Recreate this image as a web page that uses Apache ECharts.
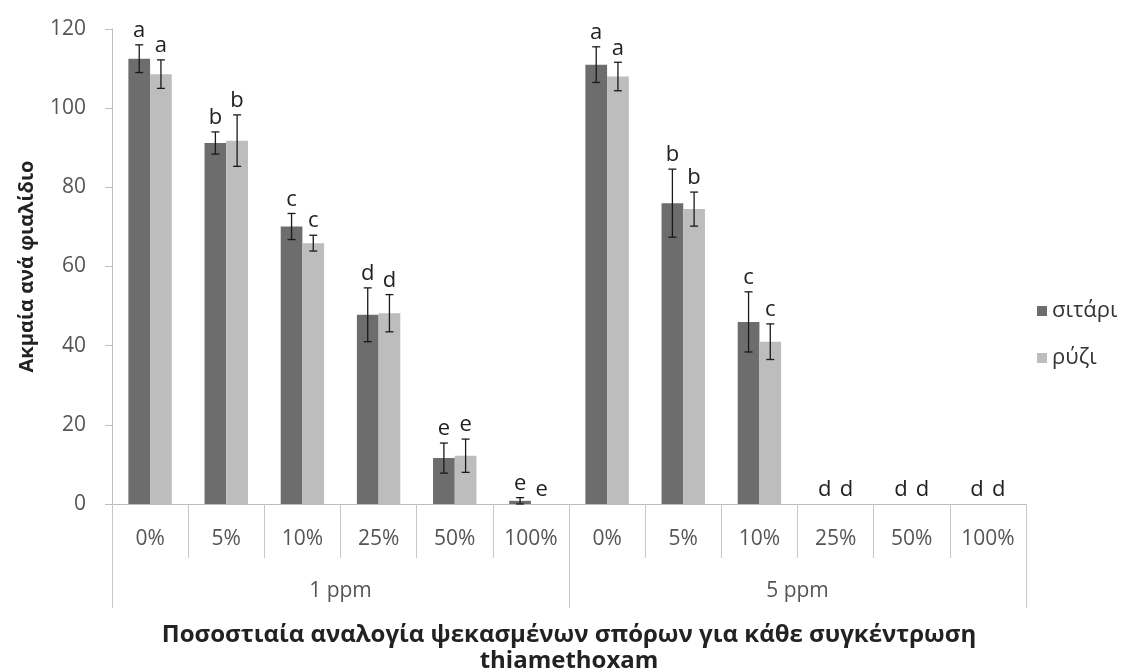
<!DOCTYPE html>
<html>
<head>
<meta charset="utf-8">
<script src="https://cdn.jsdelivr.net/npm/echarts@6/dist/echarts.min.js"></script>
<style>
  html, body { margin: 0; padding: 0; background: #fff; }
  #chart { width: 1125px; height: 668px; }
</style>
</head>
<body>
<div id="chart"></div>
<script>
// Percentage of sprayed seeds, repeated for each thiamethoxam concentration
const percentages = ['0%', '5%', '10%', '25%', '50%', '100%', '0%', '5%', '10%', '25%', '50%', '100%'];
const concentrations = ['1 ppm', '5 ppm'];
const seriesNames = ['σιτάρι', 'ρύζι'];

// Adults per vial (mean) and error half-widths
const wheatValues = [112.5, 91.2, 70.1, 47.8, 11.6, 0.8, 111.0, 76.0, 46.0, 0, 0, 0];
const wheatErrors = [3.5, 2.8, 3.3, 6.8, 3.8, 0.8, 4.5, 8.6, 7.6, 0, 0, 0];
const riceValues = [108.6, 91.8, 65.9, 48.2, 12.2, 0, 108.0, 74.5, 41.0, 0, 0, 0];
const riceErrors = [3.6, 6.5, 2.0, 4.7, 4.2, 0, 3.6, 4.3, 4.5, 0, 0, 0];

// Significance letters
const wheatLetters = ['a', 'b', 'c', 'd', 'e', 'e', 'a', 'b', 'c', 'd', 'd', 'd'];
const riceLetters = ['a', 'b', 'c', 'd', 'e', 'e', 'a', 'b', 'c', 'd', 'd', 'd'];

const yTicks = { min: 0, max: 120, interval: 20 };

const FONT = '"Open Sans", "Noto Sans", sans-serif';
const GAP = 0.43; // barCategoryGap fraction

function errorSeries(values, errors, letters, side) {
  return {
    type: 'custom',
    xAxisIndex: 0,
    yAxisIndex: 0,
    silent: true,
    z: 5,
    data: values.map((v, i) => [i, v, errors[i]]),
    renderItem: function (params, api) {
      const idx = api.value(0);
      const v = api.value(1);
      const e = api.value(2);
      const letter = letters[idx];
      const catW = api.size([1, 0])[0];
      const barW = catW * (1 - GAP) / 2;
      const cx = api.coord([idx, 0])[0] + side * barW / 2;
      const yTop = api.coord([idx, v + e])[1];
      const yBot = api.coord([idx, Math.max(v - e, 0)])[1];
      const cap = 4;
      const children = [];
      if (e > 0) {
        const ls = { stroke: '#1a1a1a', lineWidth: 1.3 };
        children.push({ type: 'line', shape: { x1: cx, y1: yTop, x2: cx, y2: yBot }, style: ls });
        children.push({ type: 'line', shape: { x1: cx - cap, y1: yTop, x2: cx + cap, y2: yTop }, style: ls });
        children.push({ type: 'line', shape: { x1: cx - cap, y1: yBot, x2: cx + cap, y2: yBot }, style: ls });
      }
      children.push({
        type: 'text',
        style: {
          x: cx, y: yTop - 3, text: letter,
          textAlign: 'center', textVerticalAlign: 'bottom',
          font: '22px ' + FONT, fill: '#222'
        }
      });
      return { type: 'group', children: children };
    }
  };
}

const chart = echarts.init(document.getElementById('chart'), null, { renderer: 'canvas' });

chart.setOption({
  backgroundColor: '#ffffff',
  animation: false,
  textStyle: { fontFamily: FONT },
  grid: { left: 112, right: 99, top: 29, bottom: 164, containLabel: false, outerBoundsMode: 'none' },
  legend: {
    orient: 'vertical',
    left: 1032,
    top: 295,
    itemWidth: 10,
    itemHeight: 10,
    itemGap: 25,
    icon: 'rect',
    data: seriesNames,
    textStyle: { fontSize: 22, color: '#333', fontFamily: FONT }
  },
  xAxis: [
    {
      type: 'category',
      data: percentages,
      position: 'bottom',
      axisLine: { show: true, lineStyle: { color: '#bdbdbd', width: 1 } },
      axisTick: { show: true, alignWithLabel: false, length: 54, lineStyle: { color: '#c8c8c8' } },
      axisLabel: { margin: 25, fontSize: 21, color: '#555', fontFamily: FONT }
    },
    {
      type: 'category',
      data: concentrations,
      position: 'bottom',
      axisLine: { show: false },
      axisTick: { show: true, alignWithLabel: false, length: 104, lineStyle: { color: '#c8c8c8' } },
      axisLabel: { margin: 77, fontSize: 21, color: '#555', fontFamily: FONT },
      name: 'Ποσοστιαία αναλογία ψεκασμένων σπόρων για κάθε συγκέντρωση\nthiamethoxam',
      nameLocation: 'middle',
      nameGap: 118,
      nameTextStyle: { fontSize: 24, fontWeight: 'bold', color: '#222', lineHeight: 26, fontFamily: FONT }
    }
  ],
  yAxis: {
    type: 'value',
    min: yTicks.min,
    max: yTicks.max,
    interval: yTicks.interval,
    axisLine: { show: true, lineStyle: { color: '#bdbdbd' } },
    axisTick: { show: true, length: 7, lineStyle: { color: '#bdbdbd' } },
    splitLine: { show: false },
    axisLabel: { fontSize: 21, color: '#555', margin: 26, fontFamily: FONT },
    name: 'Ακμαία ανά φιαλίδιο',
    nameLocation: 'middle',
    nameGap: 75,
    nameTextStyle: { fontSize: 20, fontWeight: 'bold', color: '#222', fontFamily: FONT }
  },
  series: [
    {
      name: seriesNames[0],
      type: 'bar',
      xAxisIndex: 0,
      data: wheatValues,
      barGap: '0%',
      barCategoryGap: (GAP * 100) + '%',
      itemStyle: { color: '#6d6d6d' }
    },
    {
      name: seriesNames[1],
      type: 'bar',
      xAxisIndex: 0,
      data: riceValues,
      barGap: '0%',
      barCategoryGap: (GAP * 100) + '%',
      itemStyle: { color: '#bdbdbd' }
    },
    errorSeries(wheatValues, wheatErrors, wheatLetters, -1),
    errorSeries(riceValues, riceErrors, riceLetters, 1)
  ]
});
</script>
</body>
</html>
